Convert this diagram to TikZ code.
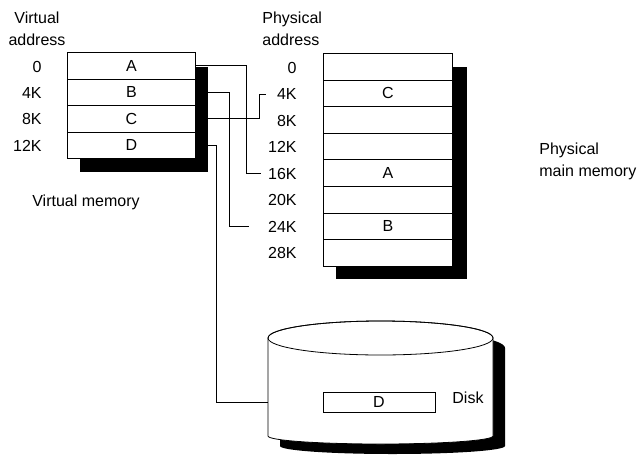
\documentclass[tikz,border=0pt]{standalone}
\usepackage{fontspec}
\setmainfont{Liberation Sans}
\begin{document}
\begin{tikzpicture}[x=1pt,y=-1pt,line width=0.8pt,
  every node/.style={font=\fontsize{16}{22}\selectfont, inner sep=0pt},
  vcell/.style={draw, fill=white, minimum width=128pt, minimum height=26.5pt, anchor=north west},
  pcell/.style={draw, fill=white, minimum width=129pt, minimum height=26.6pt, anchor=north west},
  addr/.style={anchor=east},
  conn/.style={line width=0.7pt}]
\useasboundingbox (0,0) rectangle (639,463);

% ---------- virtual memory ----------
\fill[black] (80,67) rectangle (208,172);
\node[vcell] (vA) at (67,52)    {A};
\node[vcell] (vB) at (67,78.5)  {B};
\node[vcell] (vC) at (67,105)   {C};
\node[vcell] (vD) at (67,131.5) {D};

\node[align=center] (vaddr) at (37,29) {Virtual\\address};
\node[addr] (v0)  at (42,67)  {0};
\node[addr] (v4)  at (42,93)  {4K};
\node[addr] (v8)  at (42,119) {8K};
\node[addr] (v12) at (42,146) {12K};
\node (vmem) at (86,202) {Virtual memory};

% ---------- physical memory ----------
\fill[black] (336,67) rectangle (467,279);
\node[pcell] (p0) at (323,53)    {};
\node[pcell] (p1) at (323,79.6)  {C};
\node[pcell] (p2) at (323,106.2) {};
\node[pcell] (p3) at (323,132.8) {};
\node[pcell] (p4) at (323,159.4) {A};
\node[pcell] (p5) at (323,186)   {};
\node[pcell] (p6) at (323,212.6) {B};
\node[pcell] (p7) at (323,239.2) {};

\node[align=left,anchor=west] (paddr) at (262,29) {Physical\\address};
\node[addr] (l0)  at (297,67.5)  {0};
\node[addr] (l4)  at (297,94)    {4K};
\node[addr] (l8)  at (297,120.5) {8K};
\node[addr] (l12) at (297,147)   {12K};
\node[addr] (l16) at (297,173.5) {16K};
\node[addr] (l20) at (297,200)   {20K};
\node[addr] (l24) at (297,226.5) {24K};
\node[addr] (l28) at (297,253)   {28K};
\node[align=left,anchor=west] (pmem) at (539,161) {Physical\\main memory};

% ---------- disk ----------
\fill[black] (280,348) -- (280,446)
  arc[start angle=180, end angle=360, x radius=112.5pt, y radius=8pt]
  -- (505,348)
  arc[start angle=0, end angle=180, x radius=112.5pt, y radius=17pt] -- cycle;
\filldraw[fill=white] (268,338) -- (268,436)
  arc[start angle=180, end angle=360, x radius=112.5pt, y radius=8pt]
  -- (493,338)
  arc[start angle=0, end angle=180, x radius=112.5pt, y radius=17pt] -- cycle;
\draw (380.5,338) ellipse [x radius=112.5pt, y radius=17pt];
\node[draw, fill=white, minimum width=112pt, minimum height=20pt] (dD) at (379,402) {D};
\node[anchor=west] (disk) at (452,398) {Disk};
\coordinate (diskin) at (268,402);

% ---------- connectors ----------
\draw[conn] (vA.east) -- ++(51,0) |- ([xshift=-6.5pt]l16.west);
\draw[conn] (vB.east) -- ++(34,0) |- ([xshift=-18.5pt]l24.west);
\draw[conn] (vC.east) -- ++(64,0) |- ([xshift=-10.5pt]l4.west);
\draw[conn] (vD.east) -- ++(21,0) |- (diskin);
\end{tikzpicture}
\end{document}
